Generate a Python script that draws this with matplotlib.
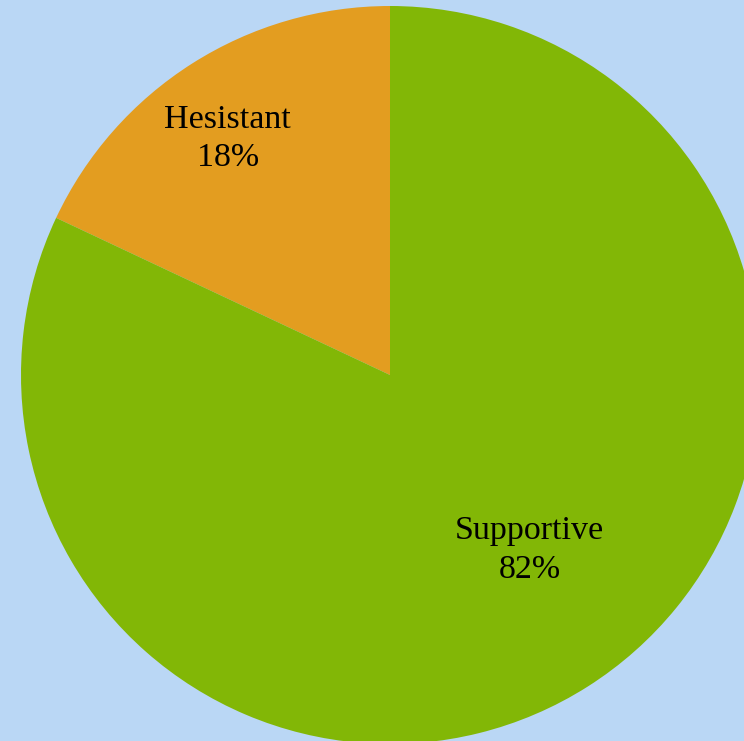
import matplotlib.pyplot as plt

# data
labels = ["Hesistant", "Supportive"]
shares = [18, 82]
colors = ["#E39D20", "#82B706"]

W, H = 744, 741
fig = plt.figure(figsize=(W/100, H/100), dpi=100, facecolor="#BAD7F5")

# pie centre ~ (390, 375) px, radius ~ 369 px
cx, cy, r = 390, 375, 369
ax = fig.add_axes([(cx-r)/W, (H-cy-r)/H, 2*r/W, 2*r/H])
ax.set_facecolor("none")

wedges, texts = ax.pie(shares, colors=colors, startangle=90, counterclock=True,
                       radius=1, wedgeprops=dict(linewidth=0))
ax.set_xlim(-1, 1)
ax.set_ylim(-1, 1)
ax.set_aspect("equal")
ax.axis("off")

# label positions (fraction of radius, from pie centre)
label_pos = [(-0.44, 0.64), (0.378, -0.475)]
for lab, val, (x, y) in zip(labels, shares, label_pos):
    ax.text(x, y, f"{lab}\n{val}%", ha="center", va="center",
            fontsize=24.5, family="Liberation Serif", color="black", linespacing=1.35)

fig.savefig("out.png", dpi=100, facecolor=fig.get_facecolor())
